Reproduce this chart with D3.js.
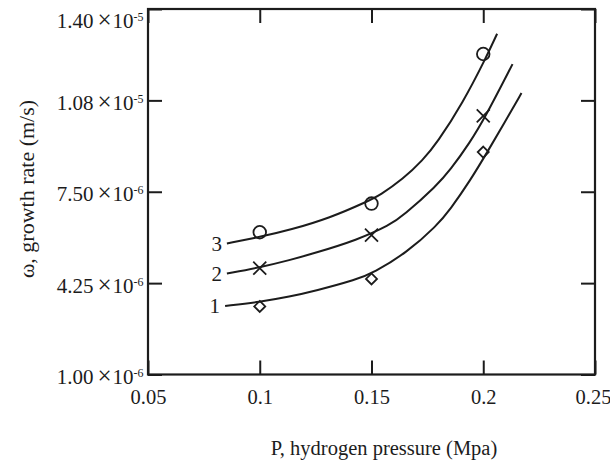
<!DOCTYPE html>
<html><head><meta charset="utf-8">
<script src="https://cdn.jsdelivr.net/npm/d3@7"></script>
<style>body{margin:0;background:#fff}svg{display:block}</style>
</head><body><svg id="c" width="610" height="463"></svg>
<script>
const xTicks=[0.05,0.1,0.15,0.2,0.25];
const xTickLabels=["0.05","0.1","0.15","0.2","0.25"];
const yTicks=[1.00e-6,4.25e-6,7.50e-6,1.075e-5,1.40e-5];
const yTickMantissa=["1.00","4.25","7.50","1.08","1.40"];
const yTickExp=["-6","-6","-6","-5","-5"];
const curveLabels=["1","2","3"];
// fitted curves
const curve1P=[0.0845,0.1001,0.1135,0.1247,0.1435,0.1507,0.1659,0.1793,0.1851,0.1941,0.2021,0.2097,0.2171];
const curve1W=[3.44e-6,3.58e-6,3.77e-6,3.97e-6,4.38e-6,4.61e-6,5.34e-6,6.30e-6,6.86e-6,7.89e-6,8.95e-6,9.98e-6,1.101e-5];
const curve2P=[0.0853,0.1001,0.1135,0.1247,0.1435,0.1583,0.1641,0.1793,0.1851,0.1941,0.2008,0.2131];
const curve2W=[4.59e-6,4.81e-6,5.07e-6,5.32e-6,5.78e-6,6.32e-6,6.64e-6,7.73e-6,8.26e-6,9.26e-6,1.014e-5,1.204e-5];
const curve3P=[0.0853,0.1010,0.1135,0.1314,0.1480,0.1538,0.1641,0.1730,0.1793,0.1909,0.2012,0.2062];
const curve3W=[5.66e-6,5.91e-6,6.14e-6,6.57e-6,7.15e-6,7.38e-6,7.95e-6,8.63e-6,9.23e-6,1.067e-5,1.226e-5,1.312e-5];
// measured points
const markP=[0.1,0.15,0.2];
const diamondW=[3.42e-6,4.40e-6,8.91e-6];
const crossW=[4.78e-6,5.96e-6,1.02e-5];
const circleW=[6.06e-6,7.08e-6,1.24e-5];

const ink="#1c1c1c";
const font="'Liberation Serif','Times New Roman',serif";
const svg=d3.select("#c");
const L=148,R=595,T=9,B=374.5;
const x=d3.scaleLinear().domain([0.05,0.25]).range([L,R]);
const y=d3.scaleLinear().domain([1e-6,1.4e-5]).range([B,T]);

function styleAxis(g){g.select(".domain").remove();g.selectAll("line").attr("stroke",ink).attr("stroke-width",2);}
svg.append("g").attr("transform",`translate(0,${B})`)
  .call(d3.axisBottom(x).tickValues(xTicks).tickSizeInner(-14).tickSizeOuter(0).tickPadding(15).tickFormat((d,i)=>xTickLabels[i]))
  .call(styleAxis)
  .call(g=>g.selectAll("text").attr("font-family",font).attr("font-size",20.5).attr("fill",ink)
    .attr("dx",(d,i)=>i===xTicks.length-1?-2:0));
svg.append("g").attr("transform",`translate(0,${T})`)
  .call(d3.axisTop(x).tickValues(xTicks).tickSizeInner(-14).tickSizeOuter(0).tickFormat(""))
  .call(styleAxis);
svg.append("g").attr("transform",`translate(${L},0)`)
  .call(d3.axisLeft(y).tickValues(yTicks).tickSizeInner(-14).tickSizeOuter(0).tickFormat(""))
  .call(styleAxis);
svg.append("g").attr("transform",`translate(${R},0)`)
  .call(d3.axisRight(y).tickValues(yTicks).tickSizeInner(-14).tickSizeOuter(0).tickFormat(""))
  .call(styleAxis);

svg.append("rect").attr("x",L).attr("y",T).attr("width",R-L).attr("height",B-T)
  .attr("fill","none").attr("stroke",ink).attr("stroke-width",2.2);

// y tick labels
yTicks.forEach((v,i)=>{
  const cy=Math.max(y(v)+2,20);
  const t=svg.append("text").attr("x",143.5).attr("y",cy+7.5).attr("text-anchor","end")
    .attr("font-family",font).attr("font-size",21).attr("fill",ink);
  t.append("tspan").text(yTickMantissa[i]);
  t.append("tspan").attr("dx",4).attr("font-size",25).attr("font-weight",300).text("\u00d7");
  t.append("tspan").attr("dx",1).text("10");
  t.append("tspan").attr("font-size",12).attr("dy",-7).text(yTickExp[i]);
});

// axis titles
svg.append("text").attr("x",384).attr("y",455).attr("text-anchor","middle")
  .attr("font-family",font).attr("font-size",20.5).attr("fill",ink).text("P, hydrogen pressure (Mpa)");
svg.append("text").attr("transform","translate(34,189) rotate(-90)").attr("text-anchor","middle")
  .attr("font-family",font).attr("font-size",22).attr("fill",ink).text("\u03c9, growth rate (m/s)");

// curves
const line=d3.line().x(d=>x(d[0])).y(d=>y(d[1])).curve(d3.curveBasis);
const curves=[[curve1P,curve1W],[curve2P,curve2W],[curve3P,curve3W]];
curves.forEach(([P,W],i)=>{
  const pts=P.map((p,j)=>[p,W[j]]);
  svg.append("path").attr("d",line(pts)).attr("fill","none").attr("stroke",ink).attr("stroke-width",2);
  svg.append("text").attr("x",x(P[0])-5).attr("y",y(W[0])+7.5).attr("text-anchor","end")
    .attr("font-family",font).attr("font-size",21).attr("fill",ink).text(curveLabels[i]);
});

// markers
const sym=svg.append("g").attr("fill","none").attr("stroke",ink).attr("stroke-width",1.8);
markP.forEach((p,j)=>{
  const cx=x(p);
  let cy=y(diamondW[j]);
  sym.append("path").attr("d",`M${cx},${cy-5.5}L${cx+5.5},${cy}L${cx},${cy+5.5}L${cx-5.5},${cy}Z`);
  cy=y(crossW[j]);
  sym.append("path").attr("d",`M${cx-6.5},${cy-6.5}L${cx+6.5},${cy+6.5}M${cx-6.5},${cy+6.5}L${cx+6.5},${cy-6.5}`);
  cy=y(circleW[j]);
  sym.append("circle").attr("cx",cx).attr("cy",cy).attr("r",6.3);
});
</script></body></html>
